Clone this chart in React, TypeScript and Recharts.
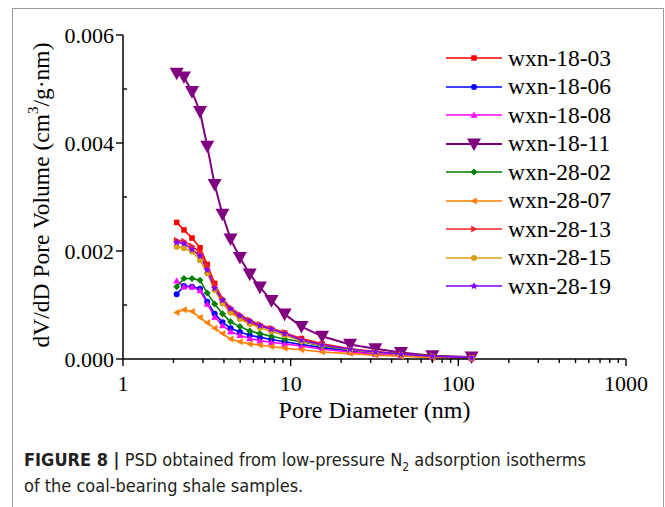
import React from 'react'
import { LineChart, Line, XAxis, YAxis, Legend } from 'recharts'

// pore diameters (nm) of the BJH points
const PORE_NM = [2.09, 2.31, 2.58, 2.88, 3.18, 3.52, 3.92, 4.38, 4.98, 5.7, 6.55, 7.68, 9.2, 11.6, 15.4, 22.6, 32, 45.5, 70, 120]

// dV/dD values, cm3/(g·nm)
const WXN_18_03 = [0.00253, 0.00239, 0.00224, 0.00206, 0.00175, 0.0014, 0.00108, 0.00088, 0.00076, 0.00067, 0.00061, 0.00055, 0.00048, 0.00038, 0.00028, 0.00019, 0.00014, 0.00009, 0.00005, 0.000025]
const WXN_18_06 = [0.0012, 0.00135, 0.00134, 0.0013, 0.00106, 0.00084, 0.00068, 0.00057, 0.0005, 0.00044, 0.0004, 0.00036, 0.00032, 0.00027, 0.00021, 0.00015, 0.0001, 0.00007, 0.00004, 0.00002]
const WXN_18_08 = [0.00145, 0.00134, 0.00134, 0.00127, 0.00102, 0.00078, 0.00062, 0.00051, 0.00044, 0.00038, 0.00034, 0.00031, 0.00028, 0.00024, 0.00018, 0.00013, 0.00009, 0.00006, 0.000035, 0.00002]
const WXN_18_11 = [0.00529, 0.00522, 0.00495, 0.00458, 0.00394, 0.00323, 0.00268, 0.00222, 0.00188, 0.00157, 0.00133, 0.00108, 0.00083, 0.0006, 0.00042, 0.00027, 0.00019, 0.00012, 0.00006, 0.000035]
const WXN_28_02 = [0.00134, 0.00149, 0.00149, 0.00146, 0.00122, 0.00102, 0.00084, 0.00069, 0.0006, 0.00052, 0.00047, 0.00042, 0.00037, 0.00032, 0.00024, 0.00017, 0.00013, 0.00009, 0.00005, 0.000025]
const WXN_28_07 = [0.00086, 0.00091, 0.00088, 0.00077, 0.00067, 0.00057, 0.00047, 0.00037, 0.00032, 0.00028, 0.00026, 0.00023, 0.0002, 0.00017, 0.00013, 0.0001, 0.00007, 0.00005, 0.00003, 0.00002]
const WXN_28_13 = [0.0022, 0.00218, 0.00209, 0.00197, 0.00172, 0.00138, 0.00112, 0.00095, 0.00082, 0.00072, 0.00064, 0.00057, 0.00049, 0.00036, 0.00027, 0.00018, 0.00013, 0.00009, 0.00005, 0.000025]
const WXN_28_15 = [0.00208, 0.00205, 0.00199, 0.00183, 0.00159, 0.00128, 0.00103, 0.00086, 0.00074, 0.00065, 0.00058, 0.00051, 0.00044, 0.00033, 0.00025, 0.00017, 0.00012, 0.00008, 0.000045, 0.00002]
const WXN_28_19 = [0.00216, 0.00214, 0.00203, 0.00191, 0.00165, 0.00131, 0.00109, 0.00093, 0.0008, 0.0007, 0.00062, 0.00055, 0.00047, 0.00035, 0.00026, 0.00018, 0.00013, 0.00009, 0.00005, 0.000025]

const X_TICKS = [1, 2, 3, 4, 5, 6, 7, 8, 9, 10, 20, 30, 40, 50, 60, 70, 80, 90, 100, 200, 300, 400, 500, 600, 700, 800, 900, 1000]
const X_LABELS = [1, 10, 100, 1000]
const Y_TICKS = [0, 0.001, 0.002, 0.003, 0.004, 0.005, 0.006]
const Y_LABELS = [0, 0.002, 0.004, 0.006]

const SERIF = '"Liberation Serif", "Times New Roman", serif'

type Shape = 'square' | 'circle' | 'up' | 'down' | 'diamond' | 'left' | 'right' | 'star'

const SERIES: { name: string; values: number[]; color: string; shape: Shape; size: number; width: number }[] = [
  { name: 'wxn-18-03', values: WXN_18_03, color: '#ff0000', shape: 'square', size: 5.5, width: 1.6 },
  { name: 'wxn-18-06', values: WXN_18_06, color: '#0000ff', shape: 'circle', size: 6, width: 1.6 },
  { name: 'wxn-18-08', values: WXN_18_08, color: '#ff00ff', shape: 'up', size: 7, width: 1.6 },
  { name: 'wxn-18-11', values: WXN_18_11, color: '#800080', shape: 'down', size: 14, width: 2 },
  { name: 'wxn-28-02', values: WXN_28_02, color: '#008000', shape: 'diamond', size: 7, width: 1.6 },
  { name: 'wxn-28-07', values: WXN_28_07, color: '#ff8000', shape: 'left', size: 7, width: 1.6 },
  { name: 'wxn-28-13', values: WXN_28_13, color: '#f52525', shape: 'right', size: 7, width: 1.6 },
  { name: 'wxn-28-15', values: WXN_28_15, color: '#d9a010', shape: 'circle', size: 6, width: 1.6 },
  { name: 'wxn-28-19', values: WXN_28_19, color: '#8000ff', shape: 'star', size: 8, width: 1.6 },
]

function Marker({ shape, cx, cy, size, color }: { shape: Shape; cx: number; cy: number; size: number; color: string }) {
  const h = size / 2
  if (shape === 'square') return <rect x={cx - h} y={cy - h} width={size} height={size} fill={color} />
  if (shape === 'circle') return <circle cx={cx} cy={cy} r={h} fill={color} />
  if (shape === 'up') return <polygon points={`${cx},${cy - h} ${cx + h},${cy + h * 0.8} ${cx - h},${cy + h * 0.8}`} fill={color} />
  if (shape === 'down') return <polygon points={`${cx - h},${cy - h * 0.8} ${cx + h},${cy - h * 0.8} ${cx},${cy + h}`} fill={color} />
  if (shape === 'left') return <polygon points={`${cx - h},${cy} ${cx + h * 0.8},${cy - h} ${cx + h * 0.8},${cy + h}`} fill={color} />
  if (shape === 'right') return <polygon points={`${cx + h},${cy} ${cx - h * 0.8},${cy - h} ${cx - h * 0.8},${cy + h}`} fill={color} />
  if (shape === 'diamond') return <polygon points={`${cx},${cy - h} ${cx + h},${cy} ${cx},${cy + h} ${cx - h},${cy}`} fill={color} />
  // star
  const pts: string[] = []
  for (let i = 0; i < 10; i++) {
    const r = i % 2 === 0 ? h : h * 0.45
    const a = -Math.PI / 2 + (i * Math.PI) / 5
    pts.push(`${cx + r * Math.cos(a)},${cy + r * Math.sin(a)}`)
  }
  return <polygon points={pts.join(' ')} fill={color} />
}

function XTick({ x, y, payload }: any) {
  const major = X_LABELS.includes(payload.value)
  return (
    <g>
      <line x1={x} x2={x} y1={y} y2={y + (major ? 7 : 4)} stroke="#000" strokeWidth={1.4} />
      {major && (
        <text x={x} y={y + 32} textAnchor="middle" fontFamily={SERIF} fontSize={22} fill="#000">
          {payload.value}
        </text>
      )}
    </g>
  )
}

function YTick({ x, y, payload }: any) {
  const major = Y_LABELS.some(v => Math.abs(v - payload.value) < 1e-9)
  return (
    <g>
      {major ? (
        <line x1={x - 7} x2={x} y1={y} y2={y} stroke="#000" strokeWidth={1.4} />
      ) : (
        <line x1={x} x2={x + 4} y1={y} y2={y} stroke="#000" strokeWidth={1.4} />
      )}
      {major && (
        <text x={x - 9} y={y} dy="0.35em" textAnchor="end" fontFamily={SERIF} fontSize={22} fill="#000">
          {payload.value.toFixed(3)}
        </text>
      )}
    </g>
  )
}

function LegendBox() {
  return (
    <div>
      {SERIES.map(s => (
        <div key={s.name} style={{ display: 'flex', alignItems: 'center', height: 28.5 }}>
          <svg width={56} height={20} style={{ display: 'block' }}>
            <line x1={0} x2={56} y1={10} y2={10} stroke={s.color} strokeWidth={s.width} />
            <Marker shape={s.shape} cx={28} cy={10} size={s.size} color={s.color} />
          </svg>
          <span style={{ fontFamily: SERIF, fontSize: 23.5, marginLeft: 6, color: '#000', lineHeight: '23px' }}>{s.name}</span>
        </div>
      ))}
    </div>
  )
}

export default function App() {
  return (
    <div style={{ position: 'relative', width: 665, height: 507, background: '#fff', overflow: 'hidden' }}>
      <style>{'body{margin:0}'}</style>
      <div style={{ position: 'absolute', left: 12, top: 8, width: 650, height: 520, border: '1.5px solid #9a9a9a', borderBottom: 'none' }} />
      <div style={{ position: 'absolute', left: 0, top: 0 }}>
        <LineChart width={665} height={432} margin={{ top: 35, right: 39, bottom: 13, left: 23 }}>
          <XAxis
            type="number"
            dataKey="x"
            scale="log"
            domain={[1, 1000]}
            ticks={X_TICKS}
            interval={0}
            allowDataOverflow
            height={60}
            tickLine={false}
            tickSize={0}
            tickMargin={0}
            tick={<XTick />}
            axisLine={{ stroke: '#000', strokeWidth: 1.5 }}
            label={{
              content: ({ viewBox }: any) => (
                <text x={viewBox.x + viewBox.width / 2} y={viewBox.y + 59} textAnchor="middle" fontFamily={SERIF} fontSize={24} fill="#000">
                  Pore Diameter (nm)
                </text>
              ),
            }}
          />
          <YAxis
            type="number"
            dataKey="y"
            domain={[0, 0.006]}
            ticks={Y_TICKS}
            interval={0}
            width={100}
            tickLine={false}
            tickSize={0}
            tickMargin={0}
            tick={<YTick />}
            axisLine={{ stroke: '#000', strokeWidth: 1.5 }}
            label={{
              content: ({ viewBox }: any) => {
                const cx = viewBox.x + 18
                const cy = viewBox.y + viewBox.height / 2 - 2
                return (
                  <text x={cx} y={cy} transform={`rotate(-90 ${cx} ${cy})`} textAnchor="middle" dominantBaseline="central" fontFamily={SERIF} fontSize={23.5} fill="#000">
                    dV/dD Pore Volume (cm
                    <tspan fontSize={15} dy={-8}>3</tspan>
                    <tspan dy={8}>/g·nm)</tspan>
                  </text>
                )
              },
            }}
          />
          <Legend
            layout="vertical"
            align="center"
            verticalAlign="middle"
            content={<LegendBox />}
            wrapperStyle={{ position: 'absolute', top: 44, left: 446, width: 210 }}
          />
          {SERIES.map(s => (
            <Line
              key={s.name}
              name={s.name}
              data={PORE_NM.map((x, i) => ({ x, y: s.values[i] }))}
              dataKey="y"
              stroke={s.color}
              strokeWidth={s.width}
              isAnimationActive={false}
              activeDot={false}
              dot={(p: any) => <Marker key={`${s.name}-${p.index}`} shape={s.shape} cx={p.cx} cy={p.cy} size={s.size} color={s.color} />}
            />
          ))}
        </LineChart>
      </div>
      <div style={{ position: 'absolute', left: 24, top: 447, fontFamily: '"Liberation Sans Narrow", "DejaVu Sans Condensed", sans-serif', fontSize: 18, lineHeight: '26px', color: '#231f20' }}>
        <div>
          <b>FIGURE 8 |</b> PSD obtained from low-pressure N<sub style={{ fontSize: 12, lineHeight: 0 }}>2</sub> adsorption isotherms
        </div>
        <div>of the coal-bearing shale samples.</div>
      </div>
    </div>
  )
}
